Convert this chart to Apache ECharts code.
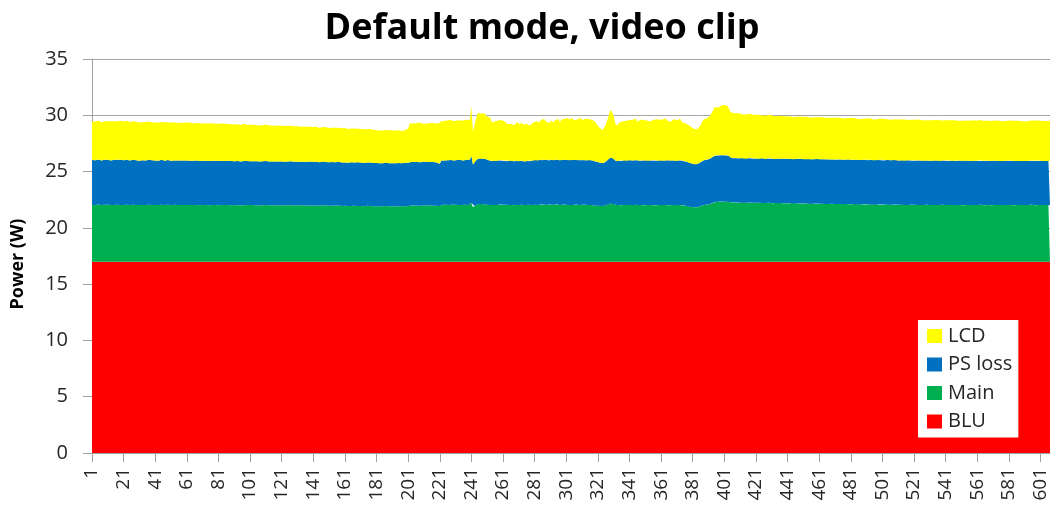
<!DOCTYPE html>
<html><head><meta charset="utf-8">
<script src="https://cdn.jsdelivr.net/npm/echarts@6/dist/echarts.min.js"></script>
<style>html,body{margin:0;padding:0;background:#fff}#c{width:1052px;height:510px}</style>
</head><body><div id="c"></div>
<script>
const sampleCount = 607;
const categories = Array.from({length: sampleCount}, (_, i) => String(i + 1));
const seriesNames = ['LCD', 'PS loss', 'Main', 'BLU'];

const lcd = [
3.42,3.46,3.44,3.48,3.43,3.45,3.41,3.47,3.44,3.46,3.42,3.45,3.49,3.44,3.43,3.46,3.42,3.45,3.47,3.43,
3.44,3.41,3.46,3.43,3.40,3.44,3.42,3.38,3.43,3.41,3.39,3.42,3.37,3.40,3.43,3.38,3.41,3.36,3.39,3.42,
3.38,3.41,3.37,3.40,3.36,3.39,3.42,3.37,3.35,3.40,3.38,3.36,3.41,3.37,3.34,3.39,3.36,3.38,3.35,3.40,
3.37,3.33,3.38,3.35,3.32,3.36,3.34,3.31,3.35,3.33,3.30,3.34,3.31,3.29,3.33,3.30,3.34,3.31,3.28,3.32,
3.30,3.27,3.31,3.28,3.32,3.29,3.26,3.30,3.27,3.25,3.29,3.31,3.26,3.28,3.24,3.27,3.29,3.25,3.23,3.27,
3.24,3.21,3.25,3.22,3.19,3.23,3.20,3.24,3.21,3.18,3.22,3.19,3.23,3.20,3.17,3.21,3.18,3.16,3.20,3.17,
3.19,3.15,3.18,3.14,3.17,3.13,3.16,3.19,3.14,3.12,3.16,3.13,3.11,3.15,3.12,3.10,3.14,3.11,3.09,3.13,
3.10,3.08,3.12,3.09,3.06,3.10,3.07,3.05,3.09,3.06,3.04,3.08,3.05,3.03,3.07,3.04,3.02,3.06,3.03,3.01,
3.05,3.02,3.00,3.04,3.01,2.99,3.03,3.00,2.98,3.02,2.99,2.97,3.01,2.98,2.96,3.00,2.97,2.99,2.95,2.98,
2.92,2.95,2.90,2.93,2.89,2.94,2.91,2.88,2.93,2.90,2.92,2.87,2.91,2.89,2.93,2.90,2.87,2.91,2.89,2.92,
3.05,3.42,3.46,3.43,3.48,3.44,3.41,3.47,3.45,3.42,3.46,3.43,3.49,3.45,3.41,3.47,3.44,3.42,3.46,3.43,
3.50,3.48,3.55,3.52,3.58,3.54,3.50,3.56,3.53,3.49,3.57,3.52,3.55,3.51,3.58,3.54,3.50,3.56,3.60,3.53,
4.40,2.90,3.35,3.70,4.05,4.10,4.02,4.08,4.04,3.95,3.85,3.88,3.82,3.45,3.40,3.48,3.43,3.55,3.68,3.62,
3.66,3.50,3.35,3.30,3.42,3.25,3.38,3.22,3.33,3.45,3.28,3.20,3.36,3.24,3.15,3.30,3.40,3.18,3.26,3.34,
3.50,3.42,3.58,3.36,3.52,3.45,3.62,3.40,3.55,3.32,3.48,3.60,3.38,3.54,3.46,3.65,3.42,3.58,3.50,3.68,
3.62,3.70,3.58,3.74,3.66,3.55,3.72,3.60,3.68,3.76,3.52,3.64,3.70,3.58,3.66,3.48,3.60,3.72,3.54,3.40,
3.25,3.10,3.02,2.96,3.05,3.28,3.60,3.95,4.25,4.36,3.85,3.30,3.15,3.22,3.40,3.32,3.48,3.38,3.55,3.44,
3.58,3.46,3.62,3.50,3.68,3.42,3.56,3.64,3.48,3.60,3.70,3.52,3.66,3.45,3.58,3.62,3.50,3.68,3.54,3.60,
3.48,3.64,3.56,3.70,3.52,3.62,3.44,3.58,3.66,3.50,3.60,3.54,3.68,3.46,3.58,3.40,3.52,3.36,3.30,3.24,
3.18,3.12,3.08,3.10,3.15,3.30,3.52,3.64,3.72,3.68,3.76,3.82,3.95,4.15,4.32,4.25,4.20,4.28,4.38,4.42,
4.45,4.48,4.40,4.30,4.05,3.95,3.98,3.94,3.97,3.92,3.96,3.93,3.90,3.94,3.91,3.88,3.92,3.89,3.86,3.90,
3.87,3.84,3.88,3.85,3.82,3.86,3.83,3.80,3.84,3.81,3.85,3.82,3.79,3.83,3.80,3.78,3.82,3.79,3.76,3.80,
3.77,3.74,3.78,3.75,3.72,3.76,3.73,3.77,3.74,3.71,3.75,3.72,3.76,3.73,3.70,3.74,3.71,3.75,3.72,3.69,
3.73,3.70,3.74,3.71,3.68,3.72,3.69,3.73,3.70,3.67,3.71,3.68,3.72,3.69,3.66,3.70,3.67,3.71,3.68,3.65,
3.69,3.66,3.70,3.67,3.64,3.68,3.65,3.69,3.66,3.63,3.67,3.64,3.68,3.65,3.62,3.66,3.63,3.67,3.64,3.61,
3.65,3.62,3.66,3.63,3.60,3.64,3.61,3.65,3.62,3.66,3.63,3.60,3.64,3.61,3.65,3.62,3.59,3.63,3.60,3.64,
3.61,3.58,3.62,3.59,3.63,3.60,3.57,3.61,3.58,3.62,3.59,3.56,3.60,3.57,3.61,3.58,3.62,3.59,3.56,3.60,
3.57,3.61,3.58,3.55,3.59,3.56,3.60,3.57,3.54,3.58,3.55,3.59,3.56,3.60,3.57,3.54,3.58,3.55,3.59,3.56,
3.58,3.55,3.59,3.56,3.53,3.57,3.54,3.58,3.55,3.59,3.56,3.53,3.57,3.54,3.58,3.55,3.52,3.56,3.53,3.57,
3.54,3.58,3.55,3.52,3.56,3.53,3.57,3.54,3.51,3.55,3.52,3.56,3.53,3.57,3.54,3.51,3.55,3.52,3.56,3.53,
3.55,3.52,3.56,3.53,3.57,3.54,3.56
];

const psLoss = [
3.98,4.00,3.97,3.99,4.01,3.98,3.96,4.00,3.98,3.97,3.99,4.01,3.97,3.98,4.00,3.96,3.99,3.98,4.00,3.97,
3.98,3.96,3.99,3.97,3.95,3.98,4.00,3.96,3.97,3.99,3.95,3.97,3.98,3.96,3.94,3.97,3.99,3.95,3.96,3.98,
3.95,3.97,3.94,3.96,3.98,3.95,3.93,3.96,3.97,3.94,3.96,3.95,3.93,3.97,3.95,3.94,3.96,3.93,3.95,3.97,
3.94,3.96,3.93,3.95,3.94,3.92,3.95,3.96,3.93,3.94,3.92,3.95,3.93,3.91,3.94,3.95,3.92,3.93,3.95,3.92,
3.93,3.91,3.94,3.92,3.90,3.93,3.94,3.91,3.92,3.94,3.90,3.92,3.93,3.91,3.89,3.92,3.94,3.90,3.91,3.93,
3.90,3.92,3.89,3.91,3.93,3.90,3.88,3.91,3.92,3.89,3.91,3.90,3.88,3.92,3.90,3.89,3.91,3.88,3.90,3.92,
3.89,3.91,3.88,3.90,3.89,3.87,3.90,3.91,3.88,3.89,3.87,3.90,3.88,3.86,3.89,3.90,3.87,3.88,3.90,3.87,
3.88,3.86,3.89,3.87,3.85,3.88,3.89,3.86,3.87,3.89,3.85,3.87,3.88,3.86,3.84,3.87,3.89,3.85,3.86,3.88,
3.85,3.87,3.84,3.86,3.88,3.85,3.83,3.86,3.87,3.84,3.86,3.85,3.83,3.87,3.85,3.84,3.86,3.83,3.85,3.87,
3.84,3.86,3.83,3.85,3.84,3.82,3.85,3.86,3.83,3.84,3.82,3.85,3.83,3.81,3.84,3.85,3.82,3.83,3.85,3.84,
3.84,3.88,3.86,3.89,3.87,3.85,3.88,3.90,3.86,3.87,3.89,3.85,3.87,3.88,3.86,3.84,3.87,3.89,3.85,3.86,
3.75,3.95,3.98,3.96,3.99,3.97,3.95,3.98,4.00,3.96,3.97,3.99,3.95,3.97,3.98,3.96,3.99,3.97,3.98,4.00,
4.20,3.80,3.88,3.98,4.05,4.06,4.04,4.07,4.05,4.03,3.98,3.95,3.93,3.90,3.92,3.94,3.91,3.93,3.95,3.92,
3.94,3.91,3.93,3.90,3.92,3.94,3.91,3.89,3.92,3.93,3.90,3.91,3.93,3.90,3.88,3.91,3.93,3.90,3.92,3.94,
3.95,3.97,3.94,3.96,3.98,3.95,3.97,3.99,3.96,3.94,3.97,3.98,3.95,3.97,3.99,3.96,3.94,3.97,3.98,3.96,
3.97,3.99,3.96,3.98,4.00,3.97,3.95,3.98,3.99,3.96,3.98,3.97,3.95,3.99,3.97,3.96,3.98,3.95,3.93,3.90,
3.87,3.84,3.82,3.80,3.83,3.88,3.95,4.02,4.08,4.10,4.02,3.94,3.92,3.95,3.97,3.94,3.96,3.98,3.95,3.97,
3.99,3.96,3.98,3.95,3.97,3.99,3.96,3.94,3.97,3.98,3.96,3.99,3.97,3.95,3.98,3.96,3.99,3.97,3.94,3.96,
3.98,3.95,3.97,3.99,3.96,3.98,3.95,3.97,3.99,3.96,3.94,3.97,3.98,3.95,3.97,3.93,3.95,3.91,3.89,3.87,
3.85,3.83,3.82,3.84,3.86,3.90,3.95,3.98,4.00,3.99,4.01,4.03,4.06,4.10,4.12,4.11,4.13,4.12,4.14,4.12,
4.13,4.11,4.12,4.08,3.96,3.92,3.94,3.93,3.95,3.92,3.94,3.96,3.93,3.95,3.92,3.94,3.96,3.93,3.95,3.92,
3.94,3.96,3.93,3.95,3.97,3.94,3.92,3.95,3.96,3.93,3.95,3.94,3.92,3.96,3.94,3.93,3.95,3.97,3.94,3.96,
3.95,3.97,3.94,3.96,3.93,3.95,3.97,3.94,3.96,3.95,3.93,3.96,3.94,3.97,3.95,3.93,3.96,3.94,3.95,3.97,
3.94,3.96,3.95,3.93,3.96,3.94,3.97,3.95,3.93,3.96,3.94,3.95,3.97,3.94,3.96,3.93,3.95,3.96,3.94,3.97,
3.95,3.93,3.96,3.94,3.95,3.97,3.94,3.96,3.93,3.95,3.96,3.94,3.97,3.95,3.93,3.96,3.94,3.95,3.97,3.94,
3.96,3.93,3.95,3.94,3.96,3.93,3.95,3.97,3.94,3.96,3.93,3.95,3.94,3.96,3.93,3.95,3.97,3.94,3.95,3.93,
3.95,3.94,3.96,3.93,3.95,3.92,3.94,3.96,3.93,3.95,3.94,3.92,3.95,3.93,3.96,3.94,3.92,3.95,3.93,3.94,
3.96,3.93,3.95,3.92,3.94,3.93,3.95,3.92,3.94,3.96,3.93,3.95,3.92,3.94,3.93,3.95,3.92,3.94,3.96,3.93,
3.94,3.92,3.95,3.93,3.94,3.92,3.95,3.93,3.91,3.94,3.92,3.95,3.93,3.94,3.92,3.95,3.93,3.91,3.94,3.93,
3.95,3.92,3.94,3.93,3.91,3.94,3.92,3.95,3.93,3.94,3.92,3.95,3.93,3.91,3.94,3.92,3.95,3.93,3.94,3.92,
3.94,3.93,3.91,3.94,3.92,3.95,3.93
];

const main = [
5.04,5.06,5.03,5.05,5.07,5.04,5.02,5.05,5.06,5.03,5.05,5.04,5.02,5.06,5.04,5.03,5.05,5.07,5.04,5.05,
5.03,5.05,5.06,5.03,5.04,5.02,5.05,5.06,5.03,5.04,5.02,5.05,5.03,5.06,5.04,5.02,5.05,5.03,5.04,5.06,
5.03,5.05,5.02,5.04,5.06,5.03,5.04,5.02,5.05,5.03,5.01,5.04,5.05,5.02,5.03,5.05,5.02,5.04,5.03,5.01,
5.04,5.02,5.03,5.05,5.02,5.01,5.03,5.04,5.01,5.02,5.04,5.01,5.03,5.02,5.00,5.03,5.04,5.01,5.02,5.03,
5.01,5.03,5.02,5.00,5.03,5.01,5.02,5.04,5.01,5.00,5.02,5.03,5.01,5.02,5.00,5.03,5.01,4.99,5.02,5.01,
5.02,5.00,5.03,5.01,4.99,5.02,5.01,5.03,5.00,5.01,5.02,4.99,5.01,5.03,5.00,5.01,4.99,5.02,5.00,5.01,
5.00,5.02,4.99,5.01,5.00,4.98,5.01,5.02,4.99,5.00,5.01,4.98,5.00,5.02,4.99,5.00,4.98,5.01,4.99,5.00,
4.99,5.01,4.98,5.00,4.97,4.99,5.00,4.97,4.98,5.00,4.97,4.99,4.96,4.98,4.99,4.96,4.98,4.97,4.95,4.98,
4.96,4.98,4.95,4.97,4.94,4.96,4.97,4.94,4.95,4.97,4.94,4.96,4.93,4.95,4.96,4.93,4.95,4.94,4.92,4.95,
4.93,4.95,4.92,4.94,4.91,4.93,4.94,4.91,4.92,4.94,4.91,4.93,4.90,4.92,4.93,4.90,4.92,4.91,4.93,4.92,
4.94,4.97,4.99,4.96,4.98,5.00,4.97,4.99,4.96,4.98,5.00,4.97,4.99,4.96,4.98,5.00,4.97,4.99,4.96,4.98,
4.95,5.03,5.05,5.02,5.06,5.04,5.02,5.05,5.07,5.03,5.05,5.04,5.02,5.06,5.04,5.03,5.05,5.07,5.04,5.06,
5.20,4.82,4.95,5.05,5.10,5.12,5.09,5.11,5.10,5.08,5.06,5.05,5.03,5.02,5.04,5.06,5.03,5.05,5.07,5.04,
5.06,5.03,5.05,5.02,5.04,5.06,5.03,5.01,5.04,5.05,5.02,5.03,5.05,5.02,5.00,5.03,5.05,5.02,5.04,5.06,
5.05,5.07,5.04,5.06,5.08,5.05,5.07,5.09,5.06,5.04,5.07,5.08,5.05,5.07,5.09,5.06,5.04,5.07,5.08,5.06,
5.05,5.07,5.04,5.06,5.03,5.05,5.07,5.04,5.02,5.05,5.06,5.03,5.05,5.02,5.04,5.06,5.03,5.01,4.99,4.98,
4.97,4.96,4.95,4.94,4.96,5.00,5.06,5.12,5.16,5.18,5.10,5.03,5.00,5.02,5.04,5.01,5.03,5.05,5.02,5.04,
5.02,5.04,5.01,5.03,5.05,5.02,5.00,5.03,5.04,5.01,5.03,5.02,5.00,5.04,5.02,5.01,5.03,5.00,5.02,5.04,
5.01,5.03,5.00,5.02,5.04,5.01,5.03,5.02,5.00,5.03,5.01,5.02,5.04,5.01,5.00,4.97,4.94,4.91,4.88,4.86,
4.85,4.83,4.82,4.84,4.87,4.92,4.98,5.03,5.06,5.05,5.08,5.12,5.18,5.24,5.30,5.32,5.33,5.31,5.34,5.32,
5.33,5.31,5.32,5.30,5.28,5.26,5.27,5.25,5.26,5.24,5.25,5.27,5.24,5.25,5.23,5.24,5.26,5.23,5.24,5.22,
5.23,5.21,5.22,5.24,5.21,5.22,5.20,5.21,5.23,5.20,5.21,5.19,5.20,5.22,5.19,5.20,5.18,5.19,5.21,5.18,
5.19,5.17,5.18,5.20,5.17,5.18,5.16,5.17,5.19,5.16,5.17,5.15,5.16,5.18,5.15,5.16,5.14,5.15,5.17,5.14,
5.15,5.13,5.14,5.16,5.13,5.14,5.12,5.13,5.15,5.12,5.13,5.11,5.12,5.14,5.11,5.12,5.10,5.11,5.13,5.10,
5.11,5.09,5.10,5.12,5.09,5.10,5.08,5.09,5.11,5.08,5.09,5.07,5.08,5.10,5.07,5.08,5.06,5.07,5.09,5.06,
5.08,5.06,5.07,5.09,5.06,5.07,5.05,5.06,5.08,5.05,5.06,5.04,5.05,5.07,5.04,5.05,5.03,5.04,5.06,5.03,
5.05,5.03,5.04,5.06,5.03,5.04,5.02,5.03,5.05,5.02,5.03,5.04,5.02,5.05,5.03,5.04,5.02,5.03,5.05,5.02,
5.04,5.02,5.03,5.05,5.02,5.03,5.01,5.03,5.04,5.02,5.03,5.01,5.04,5.02,5.03,5.05,5.02,5.03,5.01,5.04,
5.02,5.03,5.05,5.02,5.03,5.01,5.04,5.02,5.03,5.01,5.04,5.02,5.03,5.05,5.02,5.03,5.01,5.04,5.02,5.03,
5.04,5.02,5.03,5.01,5.04,5.02,5.03,5.05,5.02,5.03,5.01,5.04,5.02,5.03,5.05,5.02,5.03,5.01,5.04,5.02,
5.03,5.04,5.02,5.03,5.01,5.04,5.03
];

const blu = [
17,17,17,17,17,17,17,17,17,17,17,17,17,17,17,17,17,17,17,17,
17,17,17,17,17,17,17,17,17,17,17,17,17,17,17,17,17,17,17,17,
17,17,17,17,17,17,17,17,17,17,17,17,17,17,17,17,17,17,17,17,
17,17,17,17,17,17,17,17,17,17,17,17,17,17,17,17,17,17,17,17,
17,17,17,17,17,17,17,17,17,17,17,17,17,17,17,17,17,17,17,17,
17,17,17,17,17,17,17,17,17,17,17,17,17,17,17,17,17,17,17,17,
17,17,17,17,17,17,17,17,17,17,17,17,17,17,17,17,17,17,17,17,
17,17,17,17,17,17,17,17,17,17,17,17,17,17,17,17,17,17,17,17,
17,17,17,17,17,17,17,17,17,17,17,17,17,17,17,17,17,17,17,17,
17,17,17,17,17,17,17,17,17,17,17,17,17,17,17,17,17,17,17,17,
17,17,17,17,17,17,17,17,17,17,17,17,17,17,17,17,17,17,17,17,
17,17,17,17,17,17,17,17,17,17,17,17,17,17,17,17,17,17,17,17,
17,17,17,17,17,17,17,17,17,17,17,17,17,17,17,17,17,17,17,17,
17,17,17,17,17,17,17,17,17,17,17,17,17,17,17,17,17,17,17,17,
17,17,17,17,17,17,17,17,17,17,17,17,17,17,17,17,17,17,17,17,
17,17,17,17,17,17,17,17,17,17,17,17,17,17,17,17,17,17,17,17,
17,17,17,17,17,17,17,17,17,17,17,17,17,17,17,17,17,17,17,17,
17,17,17,17,17,17,17,17,17,17,17,17,17,17,17,17,17,17,17,17,
17,17,17,17,17,17,17,17,17,17,17,17,17,17,17,17,17,17,17,17,
17,17,17,17,17,17,17,17,17,17,17,17,17,17,17,17,17,17,17,17,
17,17,17,17,17,17,17,17,17,17,17,17,17,17,17,17,17,17,17,17,
17,17,17,17,17,17,17,17,17,17,17,17,17,17,17,17,17,17,17,17,
17,17,17,17,17,17,17,17,17,17,17,17,17,17,17,17,17,17,17,17,
17,17,17,17,17,17,17,17,17,17,17,17,17,17,17,17,17,17,17,17,
17,17,17,17,17,17,17,17,17,17,17,17,17,17,17,17,17,17,17,17,
17,17,17,17,17,17,17,17,17,17,17,17,17,17,17,17,17,17,17,17,
17,17,17,17,17,17,17,17,17,17,17,17,17,17,17,17,17,17,17,17,
17,17,17,17,17,17,17,17,17,17,17,17,17,17,17,17,17,17,17,17,
17,17,17,17,17,17,17,17,17,17,17,17,17,17,17,17,17,17,17,17,
17,17,17,17,17,17,17,17,17,17,17,17,17,17,17,17,17,17,17,17,
17,17,17,17,17,17,17
];

const colors = { 'LCD': '#FFFF00', 'PS loss': '#0070C0', 'Main': '#00B050', 'BLU': '#FF0000' };
const textFont = '"Open Sans", "Liberation Sans", sans-serif';

function area(name, data) {
  return {
    name: name, type: 'line', stack: 'total', data: data,
    symbol: 'none', showSymbol: false, smooth: false, clip: false,
    lineStyle: { width: 0 },
    areaStyle: { color: colors[name], opacity: 1 },
    itemStyle: { color: colors[name] },
    emphasis: { disabled: true },
    animation: false
  };
}

const chart = echarts.init(document.getElementById('c'), null, { renderer: 'canvas' });
chart.setOption({
  backgroundColor: '#ffffff',
  animation: false,
  title: {
    text: 'Default mode, video clip',
    left: 537, top: 6, textAlign: 'center',
    textStyle: { fontFamily: '"Open Sans", sans-serif', fontWeight: 'bold', fontSize: 36, color: '#000' }
  },
  graphic: [{
    type: 'text', x: 18, y: 264, rotation: Math.PI / 2,
    style: { text: 'Power (W)', font: 'bold 18px "Open Sans", sans-serif', fill: '#000', align: 'center', verticalAlign: 'middle' }
  }],
  grid: { left: 92, right: 2, top: 59, bottom: 57, containLabel: false },
  legend: {
    data: seriesNames,
    orient: 'vertical',
    left: 918, top: 320,
    backgroundColor: '#ffffff',
    padding: [6, 6, 6, 9],
    itemWidth: 15, itemHeight: 14, itemGap: 8.5,
    icon: 'rect',
    textStyle: { fontFamily: textFont, fontSize: 20, color: '#262626', padding: [0, 0, 0, 1] }
  },
  xAxis: {
    type: 'category',
    data: categories,
    boundaryGap: false,
    axisLine: { lineStyle: { color: '#a0a0a0', width: 1 } },
    axisTick: { interval: 19, length: 9, lineStyle: { color: '#a0a0a0' } },
    axisLabel: { interval: 19, rotate: 90, margin: 15, fontFamily: textFont, fontSize: 19, color: '#262626' },
    splitLine: { show: false }
  },
  yAxis: {
    type: 'value',
    min: 0, max: 35, interval: 5,
    axisLine: { show: true, lineStyle: { color: '#a0a0a0', width: 1 } },
    axisTick: { show: true, length: 9, lineStyle: { color: '#a0a0a0' } },
    axisLabel: { margin: 24, fontFamily: textFont, fontSize: 20, color: '#262626' },
    splitLine: { show: true, lineStyle: { color: '#a6a6a6', width: 1 } }
  },
  series: [
    area('BLU', blu),
    area('Main', main),
    area('PS loss', psLoss),
    area('LCD', lcd)
  ]
});
</script>
</body></html>
